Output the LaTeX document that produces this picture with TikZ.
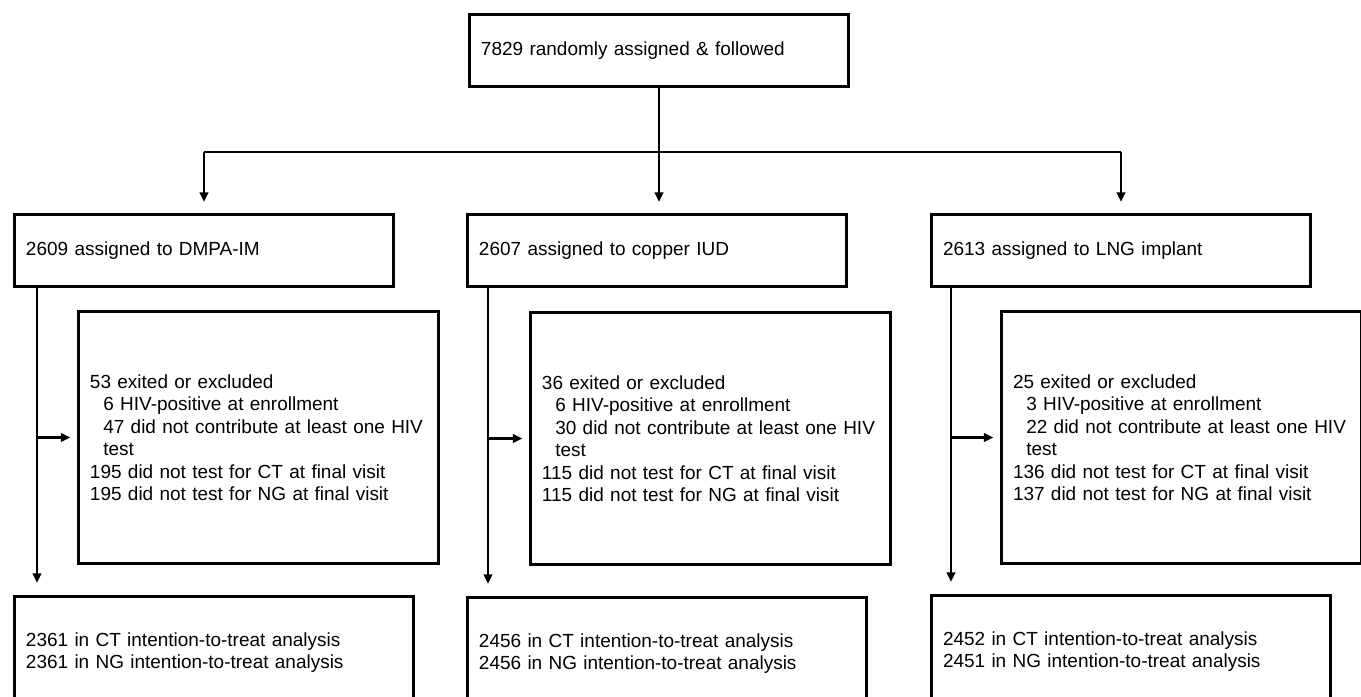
\documentclass[tikz,border=0pt]{standalone}
\usepackage{fontspec}
\setmainfont{Liberation Sans}
\usetikzlibrary{arrows.meta}

\begin{document}
\begin{tikzpicture}[scale=0.2]
\tikzstyle{every node}+=[inner sep=0pt]
\tikzstyle{box}=[draw=black, line width=1.7pt, anchor=north west, align=left, inner xsep=0.23cm, font=\fontsize{10.8}{12.8}\selectfont]
\tikzstyle{arm}=[box, text width=7.12cm, minimum height=1.44cm]
\tikzstyle{lost}=[box, text width=6.74cm, minimum height=5.04cm]
\tikzstyle{itt}=[box, text width=7.52cm, minimum height=2.24cm]
\tikzstyle{flow}=[black, line width=1.4pt, -{Triangle[length=5.5pt,width=4.8pt]}]
\useasboundingbox (0,0) rectangle (136.1,-69.7);
\clip (0,0) rectangle (136.1,-69.7);
% boxes
\draw (46.8,-1.3) node [arm] (all) {7829 randomly assigned \& followed};
\draw (1.3,-21.3) node [arm] (dmpa) {2609 assigned to DMPA-IM};
\draw (46.6,-21.3) node [arm] (cu) {2607 assigned to copper IUD};
\draw (93.0,-21.3) node [arm] (lng) {2613 assigned to LNG implant};
\draw (7.7,-31.0) node [lost] (out1) {53 exited or excluded\\
  \hspace*{0.7em}6 HIV-positive at enrollment\\
  \hspace*{0.7em}47 did not contribute at least one HIV\\
  \hspace*{0.7em}test\\
  195 did not test for CT at final visit\\
  195 did not test for NG at final visit};
\draw (52.9,-31.1) node [lost] (out2) {36 exited or excluded\\
  \hspace*{0.7em}6 HIV-positive at enrollment\\
  \hspace*{0.7em}30 did not contribute at least one HIV\\
  \hspace*{0.7em}test\\
  115 did not test for CT at final visit\\
  115 did not test for NG at final visit};
\draw (100.0,-31.0) node [lost] (out3) {25 exited or excluded\\
  \hspace*{0.7em}3 HIV-positive at enrollment\\
  \hspace*{0.7em}22 did not contribute at least one HIV\\
  \hspace*{0.7em}test\\
  136 did not test for CT at final visit\\
  137 did not test for NG at final visit};
\draw (1.3,-59.5) node [itt] (itt1) {2361 in CT intention-to-treat analysis\\
  2361 in NG intention-to-treat analysis};
\draw (46.6,-59.6) node [itt] (itt2) {2456 in CT intention-to-treat analysis\\
  2456 in NG intention-to-treat analysis};
\draw (93.0,-59.4) node [itt] (itt3) {2452 in CT intention-to-treat analysis\\
  2451 in NG intention-to-treat analysis};
% split into the three arms
\coordinate (bar) at (65.5,-15.2);
\draw [black, line width=1.4pt] (dmpa.north |- bar) -- (lng.north |- bar);
\draw [flow, shorten >=0.22cm] (all.south) -- (all.south |- cu.north);
\draw [flow, shorten >=0.22cm] (dmpa.north |- bar) -- (dmpa.north);
\draw [flow, shorten >=0.22cm] (lng.north |- bar) -- (lng.north);
% down each arm
\coordinate (v1) at (3.7,0);
\coordinate (v2) at (48.8,0);
\coordinate (v3) at (95.1,0);
\draw [flow, shorten >=0.24cm] (dmpa.south -| v1) -- (itt1.north -| v1);
\draw [flow, shorten >=0.24cm] (cu.south -| v2) -- (itt2.north -| v2);
\draw [flow, shorten >=0.24cm] (lng.south -| v3) -- (itt3.north -| v3);
\draw [flow, shorten >=0.13cm] (v1 |- out1.west) -- (out1.west);
\draw [flow, shorten >=0.13cm] (v2 |- out2.west) -- (out2.west);
\draw [flow, shorten >=0.13cm] (v3 |- out3.west) -- (out3.west);
\end{tikzpicture}
\end{document}
